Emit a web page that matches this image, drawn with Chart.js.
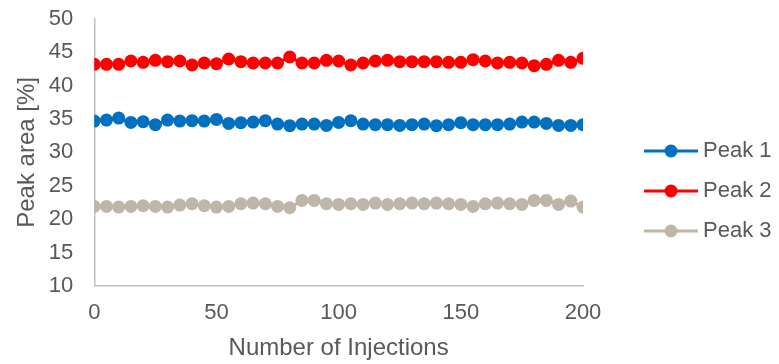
<!DOCTYPE html>
<html>
<head>
<meta charset="utf-8">
<script src="https://cdn.jsdelivr.net/npm/chart.js@4"></script>
<style>
  body { margin: 0; background: #fff; }
  #wrap { width: 779px; height: 364px; }
</style>
</head>
<body>
<div id="wrap"><canvas id="peakChart" width="779" height="364"></canvas></div>
<script>
// data
var injections = [0, 5, 10, 15, 20, 25, 30, 35, 40, 45, 50, 55, 60, 65, 70, 75, 80, 85, 90, 95, 100,
    105, 110, 115, 120, 125, 130, 135, 140, 145, 150, 155, 160, 165, 170, 175, 180, 185, 190, 195, 200];
var peak1 = [34.7, 34.85, 35.15, 34.5, 34.6, 34.15, 34.85, 34.7, 34.75, 34.7, 34.95, 34.35, 34.45, 34.55, 34.75, 34.25, 34.0, 34.25, 34.25, 34.05, 34.5,
    34.75, 34.25, 34.15, 34.15, 34.05, 34.15, 34.25, 34.0, 34.15, 34.45, 34.15, 34.15, 34.15, 34.25, 34.55, 34.55, 34.35, 34.05, 34.05, 34.15];
var peak2 = [43.2, 43.2, 43.2, 43.7, 43.5, 43.8, 43.6, 43.7, 43.1, 43.4, 43.3, 44.0, 43.6, 43.4, 43.4, 43.4, 44.3, 43.4, 43.4, 43.8, 43.7,
    43.1, 43.4, 43.7, 43.8, 43.6, 43.6, 43.6, 43.6, 43.5, 43.5, 43.9, 43.7, 43.4, 43.5, 43.4, 43.0, 43.2, 43.8, 43.5, 44.1];
var peak3 = [21.9, 21.9, 21.8, 21.9, 22.0, 21.9, 21.8, 22.1, 22.3, 22.0, 21.8, 21.9, 22.3, 22.4, 22.3, 21.9, 21.7, 22.8, 22.8, 22.3, 22.2,
    22.3, 22.2, 22.4, 22.2, 22.3, 22.4, 22.3, 22.4, 22.3, 22.2, 21.9, 22.3, 22.4, 22.3, 22.2, 22.8, 22.8, 22.2, 22.7, 21.8];
var seriesNames = ["Peak 1", "Peak 2", "Peak 3"];
var seriesColors = ["#0070C0", "#FF0000", "#BEB6A8"];

var textColor = "#595959";
var fontFamily = '"Liberation Sans", Arial, sans-serif';

function toPoints(values) {
    return values.map(function (v, i) { return { x: injections[i], y: v }; });
}

// line-with-dot symbol for the legend; the empty left part of the
// canvas pushes the symbol (and the label) away from the plot
function legendSymbol(color) {
    var c = document.createElement("canvas");
    c.width = 103;
    c.height = 16;
    var g = c.getContext("2d");
    g.strokeStyle = color;
    g.lineWidth = 3;
    g.beginPath();
    g.moveTo(49, 8);
    g.lineTo(103, 8);
    g.stroke();
    g.fillStyle = color;
    g.beginPath();
    g.arc(76, 8, 6.5, 0, Math.PI * 2);
    g.fill();
    return c;
}

var series = [peak1, peak2, peak3];
var ctx = document.getElementById("peakChart").getContext("2d");

var myChart = new Chart(ctx, {
    type: "line",
    data: {
        datasets: series.map(function (values, k) {
            return {
                label: seriesNames[k],
                data: toPoints(values),
                borderColor: seriesColors[k],
                backgroundColor: seriesColors[k],
                borderWidth: 3,
                pointRadius: 6.5,
                pointBorderWidth: 0,
                pointBackgroundColor: seriesColors[k],
                pointHoverRadius: 6.5,
                tension: 0,
            };
        }),
    },
    options: {
        responsive: false,
        animation: false,
        layout: {
            padding: { top: 19, right: 0, bottom: 1, left: 0 },
        },
        plugins: {
            tooltip: { enabled: false },
            legend: {
                position: "right",
                maxWidth: 196,
                labels: {
                    usePointStyle: true,
                    pointStyleWidth: 91,
                    padding: 18,
                    color: textColor,
                    font: { size: 22, family: fontFamily },
                    generateLabels: function (chart) {
                        var items = Chart.defaults.plugins.legend.labels.generateLabels(chart);
                        items.forEach(function (item, i) {
                            item.pointStyle = legendSymbol(seriesColors[i]);
                        });
                        return items;
                    },
                },
            },
        },
        scales: {
            x: {
                type: "linear",
                min: 0,
                max: 200,
                grid: { display: false, drawTicks: false },
                border: { display: true, color: "#BFBFBF", width: 1.5 },
                ticks: {
                    stepSize: 50,
                    padding: 14,
                    maxRotation: 0,
                    minRotation: 0,
                    color: textColor,
                    font: { size: 22, family: fontFamily },
                },
                title: {
                    display: true,
                    text: "Number of Injections",
                    color: textColor,
                    font: { size: 24, family: fontFamily },
                    padding: { top: -6, bottom: 0 },
                },
            },
            y: {
                min: 10,
                max: 50,
                grid: { display: false, drawTicks: false },
                border: { display: true, color: "#BFBFBF", width: 1.5 },
                ticks: {
                    stepSize: 5,
                    padding: 21,
                    color: textColor,
                    font: { size: 22, family: fontFamily },
                },
                title: {
                    display: true,
                    text: "Peak area [%]",
                    color: textColor,
                    font: { size: 24, family: fontFamily },
                    padding: { top: 13, bottom: -14 },
                },
                // the top label may stick out above the plot, like in the original
                afterFit: function (scale) {
                    scale.paddingTop = 0;
                },
            },
        },
    },
});
</script>
</body>
</html>
